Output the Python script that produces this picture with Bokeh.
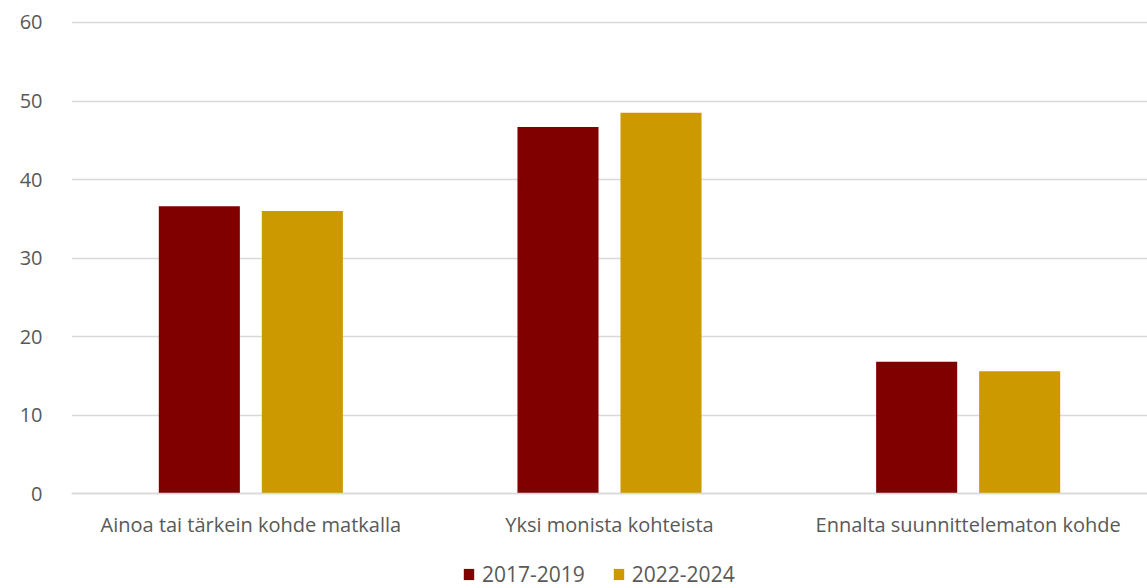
from bokeh.plotting import figure
from bokeh.models import ColumnDataSource, Range1d, FixedTicker, Legend, LegendItem
from bokeh.transform import dodge
from bokeh.embed import file_html
from bokeh.resources import INLINE
import numpy as np

categories = ["Ainoa tai tärkein kohde matkalla", "Yksi monista kohteista", "Ennalta suunnittelematon kohde"]
series_names = ["2017-2019", "2022-2024"]
values_2017_2019 = [36.6, 46.7, 16.8]
values_2022_2024 = [36.0, 48.5, 15.6]
y_ticks = [0, 10, 20, 30, 40, 50, 60]
colors = ["#800000", "#CC9900"]

xpos = list(np.arange(len(categories)) + 0.5)
source = ColumnDataSource(dict(x=xpos, cat=categories, a=values_2017_2019, b=values_2022_2024))

TEXT = "#595959"
FONT = "Open Sans"

# the frame reaches the bottom edge; the x axis sits at y = 0 and the legend sits below it
p = figure(width=1147, height=588, output_backend="svg", toolbar_location=None,
           x_range=Range1d(0, 3.0), y_range=Range1d(-12.05, 60.25),
           min_border_left=71, min_border_right=0, min_border_top=20, min_border_bottom=0)
p.outline_line_color = None
p.background_fill_color = "white"

r1 = p.vbar(x=dodge("x", -0.1436, range=p.x_range), top="a", width=0.226, source=source,
            fill_color=colors[0], line_color=None)
r2 = p.vbar(x=dodge("x", 0.1436, range=p.x_range), top="b", width=0.226, source=source,
            fill_color=colors[1], line_color=None)

p.xgrid.grid_line_color = None
p.ygrid.grid_line_color = "#d9d9d9"
p.ygrid.grid_line_width = 1.5
p.ygrid.ticker = FixedTicker(ticks=y_ticks)

p.yaxis.ticker = FixedTicker(ticks=y_ticks)
p.yaxis.axis_line_color = None
p.yaxis.major_tick_line_color = None
p.yaxis.minor_tick_line_color = None
p.yaxis.major_label_text_color = TEXT
p.yaxis.major_label_text_font = FONT
p.yaxis.major_label_text_font_size = "20px"
p.yaxis.major_label_standoff = 23

p.xaxis.fixed_location = 0
p.xaxis.ticker = FixedTicker(ticks=xpos)
p.xaxis.major_label_overrides = {float(x): c for x, c in zip(xpos, categories)}
p.xaxis.axis_line_color = "#d9d9d9"
p.xaxis.axis_line_width = 1.5
p.xaxis.major_tick_line_color = None
p.xaxis.minor_tick_line_color = None
p.xaxis.major_label_text_color = TEXT
p.xaxis.major_label_text_font = FONT
p.xaxis.major_label_text_font_size = "20px"
p.xaxis.major_label_standoff = 11

legend = Legend(items=[LegendItem(label=series_names[0], renderers=[r1]),
                       LegendItem(label=series_names[1], renderers=[r2])],
                orientation="horizontal", location=(391, 0),
                label_text_color=TEXT, label_text_font=FONT, label_text_font_size="21px",
                glyph_width=13, glyph_height=14, label_standoff=7, spacing=27,
                label_height=18,
                padding=0, margin=0, border_line_color=None, background_fill_alpha=0)
p.add_layout(legend)

open("out.html", "w").write(file_html(p, INLINE))
